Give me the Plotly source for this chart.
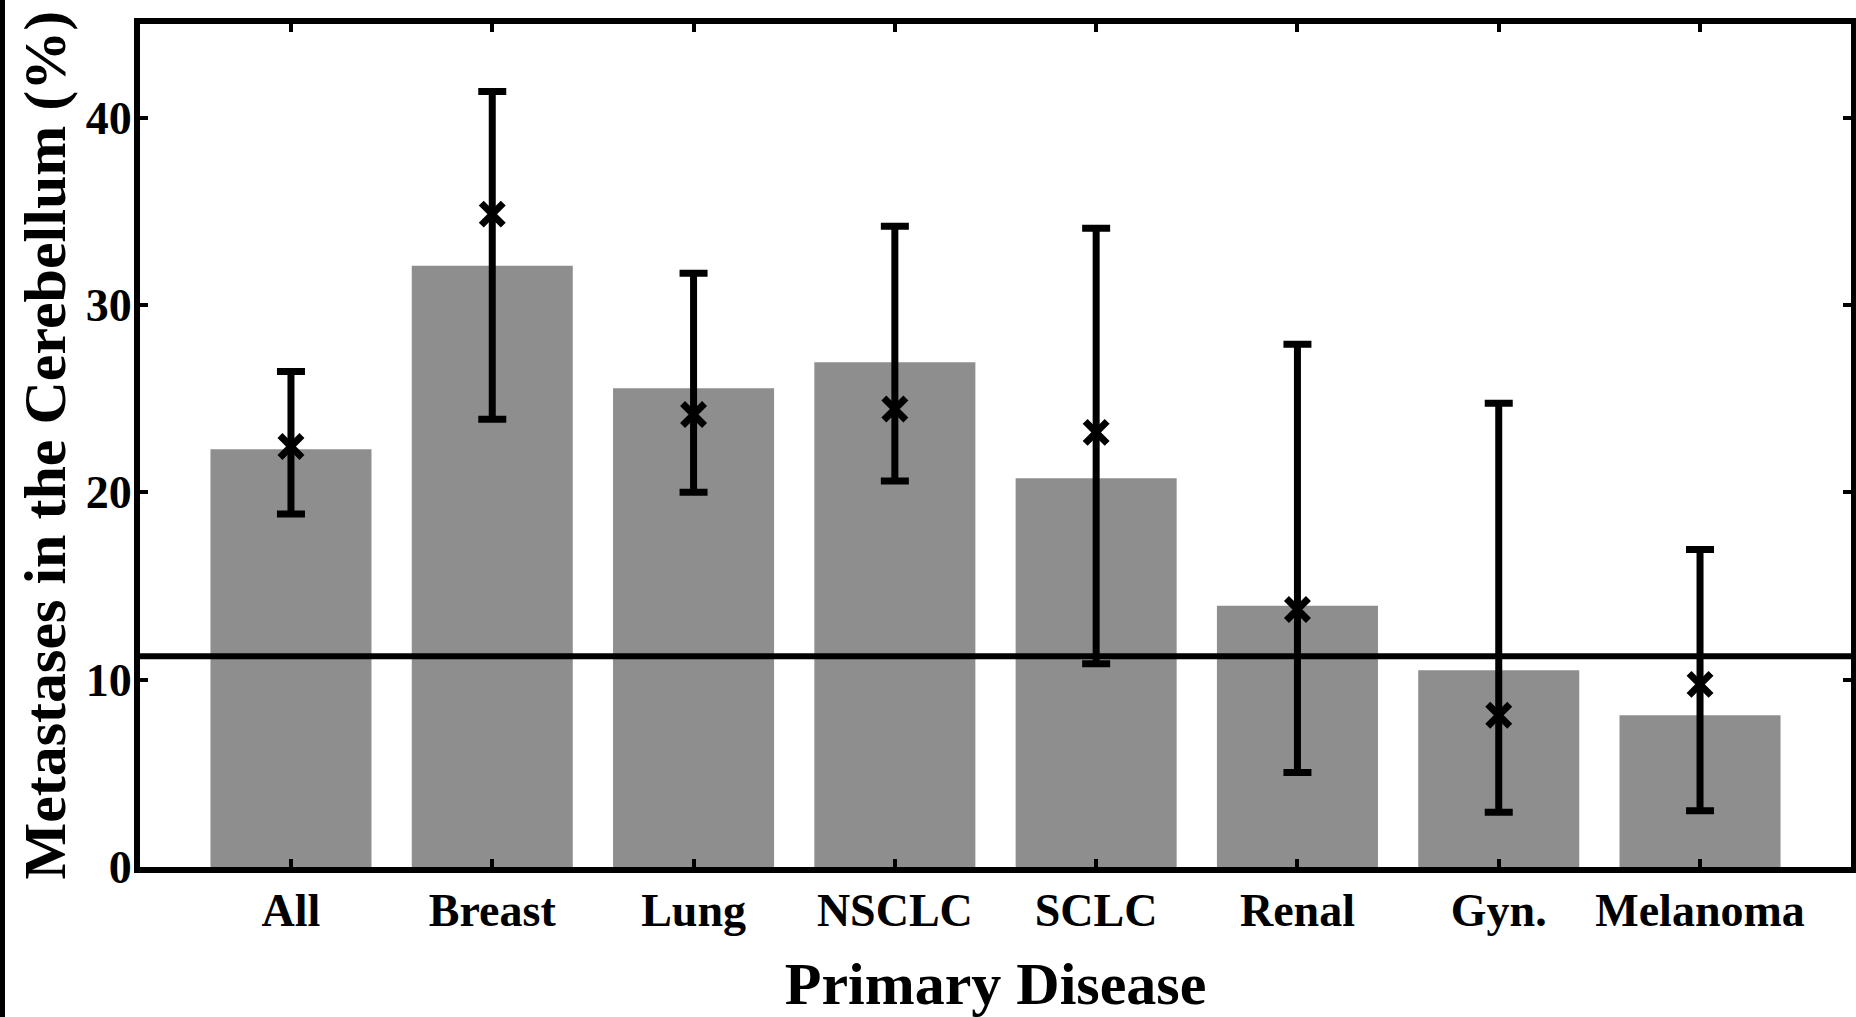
import plotly.graph_objects as go

# ---- data ----
categories = ["All", "Breast", "Lung", "NSCLC", "SCLC", "Renal", "Gyn.", "Melanoma"]
bar_values = [22.3, 32.1, 25.55, 26.95, 20.75, 13.95, 10.5, 8.1]
marker_values = [22.45, 34.85, 24.15, 24.45, 23.2, 13.75, 8.1, 9.75]
upper_values = [26.45, 41.4, 31.7, 34.2, 34.1, 27.9, 24.75, 16.95]
lower_values = [18.85, 23.9, 20.0, 20.6, 10.85, 5.05, 2.92, 3.0]
reference_level = 11.25
y_tick_values = [0, 10, 20, 30, 40]

plus = [u - m for u, m in zip(upper_values, marker_values)]
minus = [m - l for m, l in zip(marker_values, lower_values)]

W, H = 1856, 1017
ML, MR, MT, MB = 140, 5, 24, 150
PW, PH = W - ML - MR, H - MT - MB

font_family = "Liberation Serif"

fig = go.Figure()
fig.add_trace(go.Bar(
    x=categories, y=bar_values, width=0.8,
    marker=dict(color="#8e8e8e", line=dict(width=0)),
    showlegend=False,
))
fig.add_trace(go.Scatter(
    x=categories, y=marker_values, mode="markers",
    marker=dict(symbol="x-thin", size=22, color="black", line=dict(width=7, color="black")),
    error_y=dict(type="data", symmetric=False, array=plus, arrayminus=minus,
                 color="black", thickness=7, width=14),
    showlegend=False,
))

# reference horizontal line across plot
fig.add_shape(type="line", xref="paper", yref="y", x0=0, x1=1,
              y0=reference_level, y1=reference_level,
              line=dict(color="black", width=6), layer="above")

# black strip on left edge of the image
fig.add_shape(type="rect", xref="paper", yref="paper",
              x0=-ML / PW - 0.01, x1=(5 - ML) / PW,
              y0=-MB / PH - 0.05, y1=1 + MT / PH + 0.05,
              fillcolor="black", line=dict(width=0), layer="above")

# y-axis title as rotated annotation
fig.add_annotation(
    text="Metastases in the Cerebellum (%)", textangle=-90,
    xref="paper", yref="paper", x=(44 - ML) / PW, y=0.5,
    xanchor="center", yanchor="middle", showarrow=False,
    font=dict(family=font_family, size=60, color="black", weight="bold"),
)

axis_common = dict(
    showline=True, linecolor="black", linewidth=6, mirror="ticks",
    ticks="inside", ticklen=8, tickwidth=4, tickcolor="black",
    showgrid=False, zeroline=False,
    tickfont=dict(family=font_family, size=46, color="black", weight="bold"),
)

fig.update_layout(
    width=W, height=H,
    margin=dict(l=ML, r=MR, t=MT, b=MB, autoexpand=False),
    paper_bgcolor="white", plot_bgcolor="white",
    bargap=0.2,
    xaxis=dict(
        **axis_common,
        range=[-0.75, 7.75],
        ticklabelstandoff=-2,
        title=dict(text="Primary Disease", standoff=29,
                   font=dict(family=font_family, size=60, color="black", weight="bold")),
    ),
    yaxis=dict(
        **axis_common,
        range=[0, 45],
        tickvals=y_tick_values,
        ticklabelstandoff=-7,
    ),
)

fig.write_html(
    "out.html",
    config={"displayModeBar": False},
    post_script="document.body.style.margin='0';document.body.style.overflow='hidden';",
)
